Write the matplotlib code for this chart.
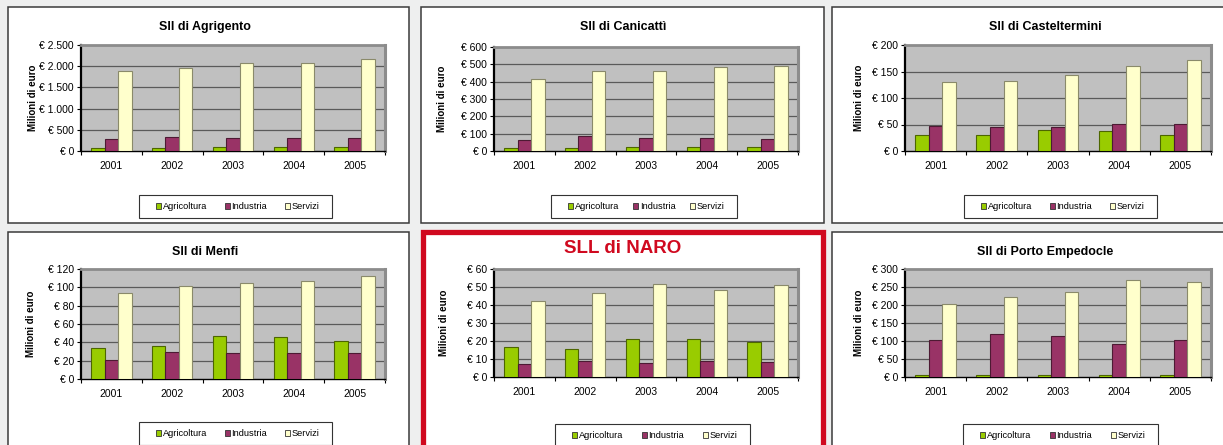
import matplotlib
matplotlib.use("Agg")
import matplotlib.pyplot as plt
from matplotlib.patches import Rectangle, Patch
from matplotlib.ticker import FuncFormatter
import numpy as np

plt.rcParams['font.family'] = ['Liberation Sans', 'DejaVu Sans']

years = ['2001', '2002', '2003', '2004', '2005']
series_names = ['Agricoltura', 'Industria', 'Servizi']

titles = ['Sll di Agrigento', 'Sll di Canicattì', 'Sll di Casteltermini',
          'Sll di Menfi', 'SLL di NARO', 'Sll di Porto Empedocle']

agr_agrigento = [70, 80, 95, 95, 95]
ind_agrigento = [283, 330, 307, 314, 307]
ser_agrigento = [1887, 1950, 2075, 2075, 2178]

agr_canicatti = [19, 19, 23, 23, 23]
ind_canicatti = [64, 87, 77, 75, 69]
ser_canicatti = [415, 463, 459, 484, 488]

agr_casteltermini = [31, 30, 39, 37, 31]
ind_casteltermini = [47, 45, 45, 51, 51]
ser_casteltermini = [131, 132, 143, 160, 171]

agr_menfi = [34, 36, 47, 46, 42]
ind_menfi = [21, 30, 28, 28, 28]
ser_menfi = [94, 101, 105, 107, 112]

agr_naro = [16.7, 15.7, 21.1, 21.3, 19.4]
ind_naro = [7.2, 9.1, 8.0, 9.1, 8.5]
ser_naro = [42.4, 46.7, 51.7, 48.3, 51.3]

agr_porto = [5, 5, 5, 5, 5]
ind_porto = [104, 120, 113, 92, 103]
ser_porto = [204, 223, 235, 270, 263]

ymax_list = [2500, 600, 200, 120, 60, 300]
ystep_list = [500, 100, 50, 20, 10, 50]

data = [
    (agr_agrigento, ind_agrigento, ser_agrigento),
    (agr_canicatti, ind_canicatti, ser_canicatti),
    (agr_casteltermini, ind_casteltermini, ser_casteltermini),
    (agr_menfi, ind_menfi, ser_menfi),
    (agr_naro, ind_naro, ser_naro),
    (agr_porto, ind_porto, ser_porto),
]

colors = ['#99cc00', '#993366', '#ffffcc']
edges = ['#4d6600', '#4d1a33', '#8a8a6a']

W, H = 1223, 445
fig = plt.figure(figsize=(W / 100, H / 100), dpi=100, facecolor='#eeefef')


def rect(x0, y0, x1, y1):
    return [x0 / W, 1 - y1 / H, (x1 - x0) / W, (y1 - y0) / H]


def add_box(x0, y0, x1, y1, **kw):
    r = Rectangle((x0 / W, 1 - y1 / H), (x1 - x0) / W, (y1 - y0) / H,
                  transform=fig.transFigure, **kw)
    fig.patches.append(r)
    return r


# panel boxes (x0, y0, x1, y1) in pixels
boxes = [(7.5, 7.5, 409, 222.5), (421.5, 7.5, 824, 222.5), (832, 7.5, 1240, 222.5),
         (7.5, 232, 409, 460), (423, 231.5, 823, 460), (832, 232, 1240, 460)]
plots = [(81, 45, 385, 151), (494, 47, 798, 151), (905, 45, 1211, 151),
         (81, 269, 385, 379), (494, 269, 798, 377), (905, 269, 1211, 377)]
ylabel_x = [38, 447, 864, 36, 449, 864]
title_pos = [(205, 27), (623, 27), (1045, 27), (205, 252), (623, 249), (1045, 252)]
legends = [(139, 195, 332, 218), (551, 195, 737, 218), (964, 195, 1157, 218),
           (139, 422, 332, 445), (555, 424, 750, 447), (963, 424, 1158, 447)]

for i in range(6):
    bx0, by0, bx1, by1 = boxes[i]
    if i == 4:
        add_box(bx0, by0, bx1, by1, facecolor='white', edgecolor='#d0091f',
                linewidth=3.8, zorder=-5)
    else:
        add_box(bx0, by0, bx1, by1, facecolor='white', edgecolor='#3a3a3a',
                linewidth=1.1, zorder=-5)

    px0, py0, px1, py1 = plots[i]
    ax = fig.add_axes(rect(px0, py0, px1, py1))
    ax.set_zorder(2)
    ax.set_facecolor('#c0c0c0')
    agr, ind, ser = data[i]
    x = np.arange(len(years))
    w = 0.222
    for k, vals in enumerate((agr, ind, ser)):
        ax.bar(x + (k - 1) * w, vals, width=w, color=colors[k], edgecolor=edges[k],
               linewidth=0.8, zorder=3)
    ymax = ymax_list[i]
    step = ystep_list[i]
    ax.set_ylim(0, ymax)
    ax.set_xlim(-0.5, len(years) - 0.5)
    ticks = np.arange(0, ymax + step / 2, step)
    ax.set_yticks(ticks)
    ax.yaxis.set_major_formatter(FuncFormatter(
        lambda v, p: '€ ' + f'{int(round(v)):,}'.replace(',', '.')))
    ax.set_xticks(x)
    ax.set_xticklabels(years)
    ax.set_xticks(np.arange(-0.5, len(years) + 0.5, 1), minor=True)
    ax.tick_params(axis='x', which='major', length=0, pad=7, labelsize=7.5)
    ax.tick_params(axis='x', which='minor', length=3, width=0.8, direction='out')
    ax.tick_params(axis='y', length=3, width=0.8, pad=2, labelsize=7.5)
    for t in ticks[1:]:
        ax.axhline(t, color='#5a5a5a', linewidth=0.9, zorder=1)
    ax.spines['left'].set_linewidth(1.6)
    ax.spines['left'].set_color('black')
    ax.spines['bottom'].set_linewidth(1.0)
    ax.spines['bottom'].set_color('black')
    ax.spines['top'].set_color('#8c8c8c')
    ax.spines['top'].set_linewidth(2.0)
    ax.spines['right'].set_color('#8c8c8c')
    ax.spines['right'].set_linewidth(2.2)
    ax.set_ylabel('Milioni di euro', fontsize=7, fontweight='bold')
    ax.yaxis.set_label_coords(ylabel_x[i] / W, 1 - (py0 + py1) / 2 / H,
                              transform=fig.transFigure)

    tx, ty = title_pos[i]
    if i == 4:
        fig.text(tx / W, 1 - ty / H, titles[i], ha='center', va='center', color='#d0091f',
                 fontsize=13.5, fontweight='bold')
    else:
        fig.text(tx / W, 1 - ty / H, titles[i], ha='center', va='center',
                 fontsize=9, fontweight='bold')

    lx0, ly0, lx1, ly1 = legends[i]
    add_box(lx0, ly0, lx1, ly1, facecolor='white', edgecolor='#333333',
            linewidth=0.8, zorder=1)
    handles = [Patch(facecolor=colors[k], edgecolor='#333333', linewidth=0.6, label=series_names[k])
               for k in range(3)]
    ix0, ix1 = lx0 + 17, lx1 - 13
    leg = ax.legend(handles=handles, loc='center', ncol=3, mode='expand',
                    bbox_to_anchor=(ix0 / W, 1 - ly1 / H, (ix1 - ix0) / W, (ly1 - ly0) / H),
                    bbox_transform=fig.transFigure, fontsize=6.7, frameon=False,
                    handlelength=0.55, handleheight=0.55, handletextpad=0.15,
                    borderpad=0.0, borderaxespad=0)

fig.savefig('out.png', dpi=100, facecolor=fig.get_facecolor())
